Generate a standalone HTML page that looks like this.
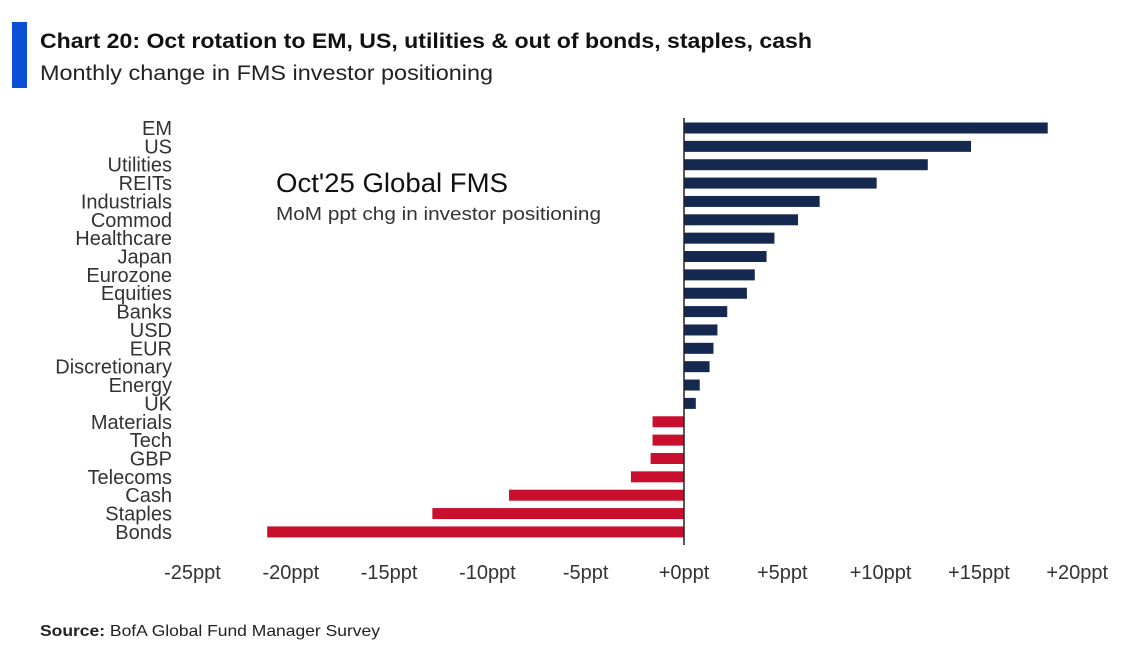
<!DOCTYPE html>
<html><head><meta charset="utf-8"><style>
body{margin:0;background:#fff;font-family:"Liberation Sans",sans-serif;}
#wrap{position:relative;width:1136px;height:645px;overflow:hidden;}
</style></head><body>
<div id="wrap">
<svg id="svg" width="1136" height="645">
<rect x="12" y="22" width="15" height="66" fill="#0b4fd6"/>
<text x="40" y="48" font-size="21" font-weight="bold" fill="#111" textLength="772" lengthAdjust="spacingAndGlyphs">Chart 20: Oct rotation to EM, US, utilities &amp; out of bonds, staples, cash</text>
<text x="40" y="80" font-size="21" fill="#222" textLength="453" lengthAdjust="spacingAndGlyphs">Monthly change in FMS investor positioning</text>
<text x="276" y="192" font-size="27" fill="#111" textLength="232" lengthAdjust="spacingAndGlyphs">Oct'25 Global FMS</text>
<text x="276" y="220" font-size="18" fill="#333" textLength="325" lengthAdjust="spacingAndGlyphs">MoM ppt chg in investor positioning</text>
<text x="40" y="636" font-size="16" fill="#222" textLength="340" lengthAdjust="spacingAndGlyphs"><tspan font-weight="bold">Source:</tspan> BofA Global Fund Manager Survey</text>
<g id="plot"></g>
</svg>
</div>
<script>
const categories=["EM","US","Utilities","REITs","Industrials","Commod","Healthcare","Japan","Eurozone","Equities","Banks","USD","EUR","Discretionary","Energy","UK","Materials","Tech","GBP","Telecoms","Cash","Staples","Bonds"];
const values=[18.5,14.6,12.4,9.8,6.9,5.8,4.6,4.2,3.6,3.2,2.2,1.7,1.5,1.3,0.8,0.6,-1.6,-1.6,-1.7,-2.7,-8.9,-12.8,-21.2];
const ticks=[-25,-20,-15,-10,-5,0,5,10,15,20];
const tickLabels=["-25ppt","-20ppt","-15ppt","-10ppt","-5ppt","+0ppt","+5ppt","+10ppt","+15ppt","+20ppt"];
const NS="http://www.w3.org/2000/svg";
const g=document.getElementById('plot');
const x=v=>684+v*19.66;
const y=i=>128+i*18.36;
function mk(t,a){const e=document.createElementNS(NS,t);for(const k in a)e.setAttribute(k,a[k]);g.appendChild(e);return e;}
categories.forEach((c,i)=>{
  const v=values[i];
  const r=mk('rect',{x:Math.min(x(0),x(v)),y:y(i)-5.5,width:Math.abs(x(v)-x(0)),height:11,fill:v>=0?'#142850':'#c8102e'});
  
  
  const t=mk('text',{x:172,y:y(i)+7,'font-size':20,'text-anchor':'end',fill:'#333'});
  t.textContent=c;
  
  
});
const ax=mk('line',{x1:x(0),x2:x(0),y1:118,y2:545,stroke:'#222','stroke-width':1.5});


ticks.forEach((tv,i)=>{
  const t=mk('text',{x:x(tv),y:579,'font-size':20,'text-anchor':'middle',fill:'#333'});
  t.textContent=tickLabels[i];
  
  
});
</script>
</body></html>
